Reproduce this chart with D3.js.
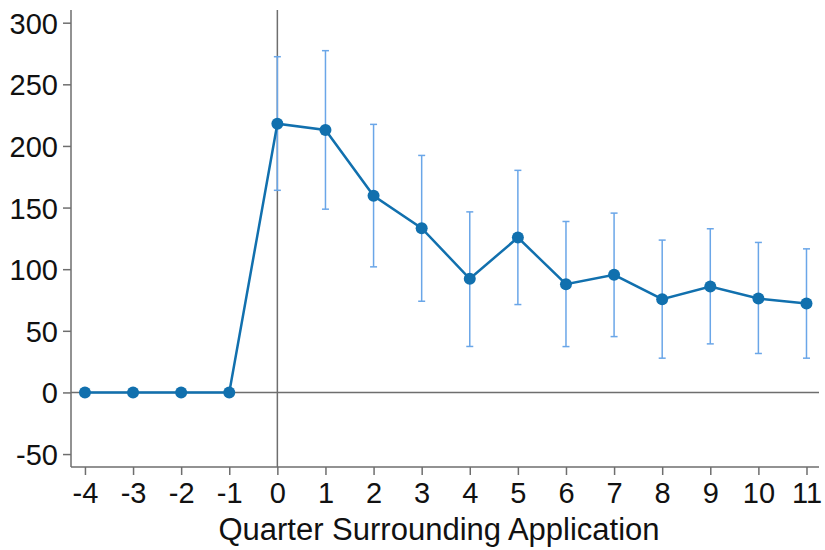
<!DOCTYPE html>
<html>
<head>
<meta charset="utf-8">
<script src="https://cdn.jsdelivr.net/npm/d3@7"></script>
<style>
  body { margin: 0; background: #fff; }
  text { font-family: "Liberation Sans", Arial, sans-serif; }
</style>
</head>
<body>
<div id="chart"></div>
<script>
// quarter, point estimate and CI bounds
const quarters = [-4, -3, -2, -1, 0, 1, 2, 3, 4, 5, 6, 7, 8, 9, 10, 11];
const estimates = [0, 0, 0, 0, 218, 213, 159.5, 133.3, 92.2, 125.7, 87.8, 95.4, 75.7, 86, 76.2, 72.2];
const ciHigh = [null, null, null, null, 272.4, 277.3, 217.5, 192.3, 146.5, 180.2, 138.7, 145.5, 123.6, 132.8, 121.7, 116.5];
const ciLow = [null, null, null, null, 164, 148.7, 101.9, 74, 37.3, 71.3, 37.2, 45.3, 27.8, 39.4, 31.6, 27.8];
const yTicks = [-50, 0, 50, 100, 150, 200, 250, 300];
const xLabel = "Quarter Surrounding Application";

const width = 825, height = 550;
const margin = {top: 10, right: 6, bottom: 83, left: 71};
const innerW = width - margin.left - margin.right;
const innerH = height - margin.top - margin.bottom;

const svg = d3.select("#chart").append("svg")
  .attr("width", width)
  .attr("height", height);

const g = svg.append("g")
  .attr("transform", `translate(${margin.left},${margin.top})`);

const x = d3.scaleLinear().domain([-4.29, 11.26]).range([0, innerW]);
const y = d3.scaleLinear().domain([-60.5, 310.3]).range([innerH, 0]);

const data = quarters.map((q, i) => ({q: q, v: estimates[i], hi: ciHigh[i], lo: ciLow[i]}));

const axisColor = "#6e6e6e";
const fmt = d => String(d);   // plain hyphen for negatives

// reference lines at 0
g.append("line")
  .attr("x1", 0).attr("x2", innerW)
  .attr("y1", y(0)).attr("y2", y(0))
  .attr("stroke", axisColor).attr("stroke-width", 1.5);
g.append("line")
  .attr("x1", x(0)).attr("x2", x(0))
  .attr("y1", 0).attr("y2", innerH)
  .attr("stroke", axisColor).attr("stroke-width", 1.5);

// axes
const yAxis = g.append("g")
  .call(d3.axisLeft(y).tickValues(yTicks).tickFormat(fmt).tickSize(8).tickPadding(5));
const xAxis = g.append("g")
  .attr("transform", `translate(0,${innerH})`)
  .call(d3.axisBottom(x).tickValues(quarters).tickFormat(fmt).tickSize(8).tickPadding(7));

[yAxis, xAxis].forEach(a => {
  a.select(".domain").attr("stroke", axisColor).attr("stroke-width", 1.5);
  a.selectAll(".tick line").attr("stroke", axisColor).attr("stroke-width", 1.5);
  a.selectAll(".tick text")
    .attr("fill", "#111")
    .style("font-size", "29px")
    .style("font-family", "'Liberation Sans', Arial, sans-serif");
});
// drop the outer ticks d3 adds to the domain path
yAxis.select(".domain").attr("d", `M0,0V${innerH}`);
xAxis.select(".domain").attr("d", `M0,0H${innerW}`);
yAxis.selectAll(".tick text").attr("dy", "0.36em");

// error bars
const errColor = "#6aa6e8";
const eb = g.selectAll(".err")
  .data(data.filter(d => d.hi != null))
  .enter().append("g").attr("class", "err");
eb.append("line")
  .attr("x1", d => x(d.q)).attr("x2", d => x(d.q))
  .attr("y1", d => y(d.hi)).attr("y2", d => y(d.lo))
  .attr("stroke", errColor).attr("stroke-width", 1.5);
eb.append("line")
  .attr("x1", d => x(d.q) - 3.5).attr("x2", d => x(d.q) + 3.5)
  .attr("y1", d => y(d.hi)).attr("y2", d => y(d.hi))
  .attr("stroke", errColor).attr("stroke-width", 1.5);
eb.append("line")
  .attr("x1", d => x(d.q) - 3.5).attr("x2", d => x(d.q) + 3.5)
  .attr("y1", d => y(d.lo)).attr("y2", d => y(d.lo))
  .attr("stroke", errColor).attr("stroke-width", 1.5);

// line + markers
const mainColor = "#1170ae";
g.append("path")
  .datum(data)
  .attr("fill", "none")
  .attr("stroke", mainColor)
  .attr("stroke-width", 2.5)
  .attr("d", d3.line().x(d => x(d.q)).y(d => y(d.v)));

g.selectAll(".pt")
  .data(data)
  .enter().append("circle")
  .attr("class", "pt")
  .attr("cx", d => x(d.q))
  .attr("cy", d => y(d.v))
  .attr("r", 6)
  .attr("fill", mainColor);

// axis title
svg.append("text")
  .attr("x", 439)
  .attr("y", 540)
  .attr("text-anchor", "middle")
  .attr("fill", "#111")
  .style("font-size", "31px")
  .text(xLabel);
</script>
</body>
</html>
